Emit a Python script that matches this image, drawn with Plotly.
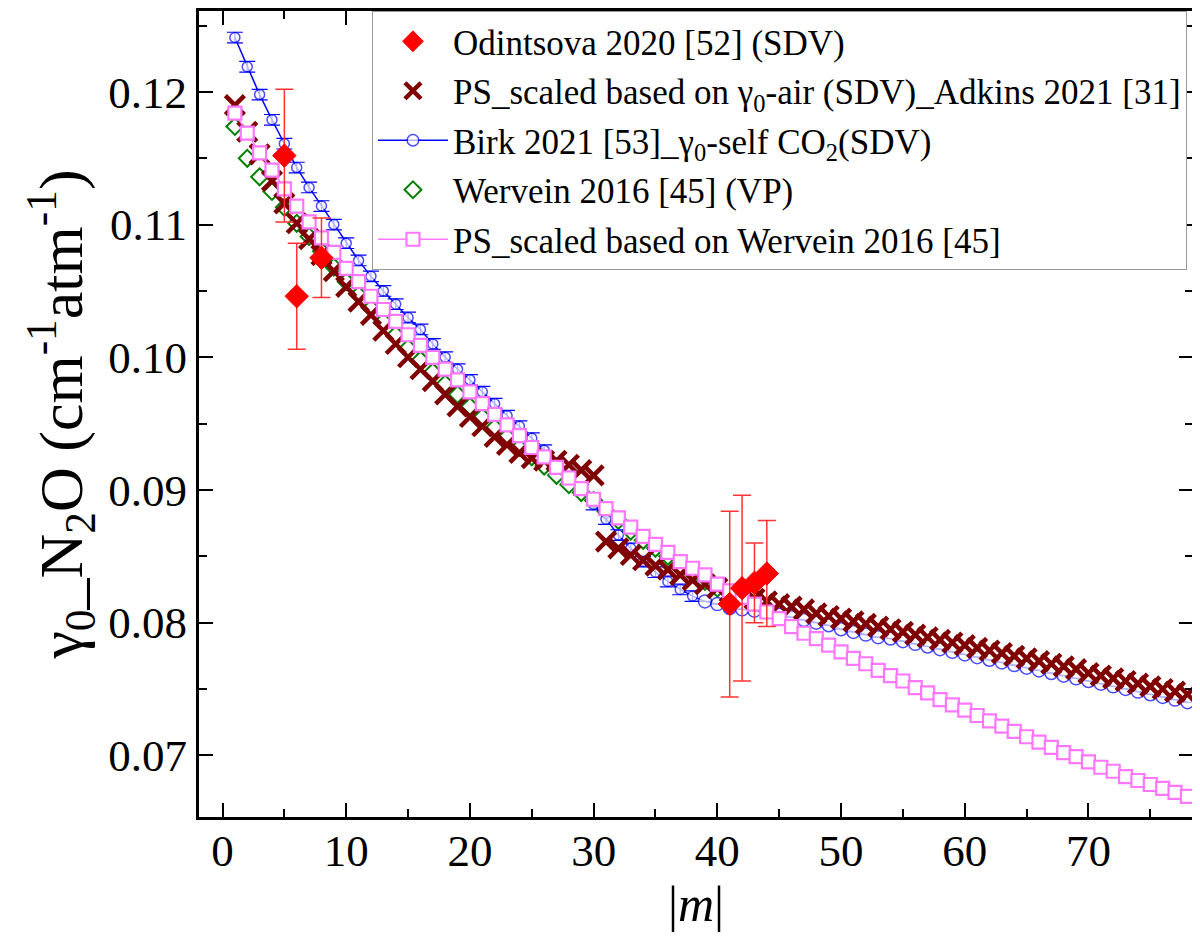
import plotly.graph_objects as go

# ---------------- data ----------------
m_odin = [5, 6, 8, 41, 42, 43, 44]
y_odin = [0.1152, 0.1046, 0.1075, 0.0814, 0.0826, 0.0830, 0.0837]
e_odin = [0.0050, 0.0040, 0.0030, 0.0070, 0.0070, 0.0030, 0.0040]

m_adk = list(range(1, 79))
y_adk = [0.1190, 0.1170, 0.1153, 0.1133, 0.1116, 0.1101, 0.1089, 0.1077, 0.1065, 0.1053,
         0.1042, 0.1032, 0.1020, 0.1010, 0.1000, 0.0991, 0.0982, 0.0972, 0.0963, 0.0955,
         0.0948, 0.0940, 0.0934, 0.0928, 0.0924, 0.0922, 0.0922, 0.0919, 0.0915, 0.0911,
         0.0861, 0.0856, 0.0851, 0.0847, 0.0843, 0.0840, 0.0836, 0.0832, 0.0829, 0.0826,
         0.0823, 0.0820, 0.0818, 0.0816, 0.0814, 0.0812, 0.0810, 0.0807, 0.0805, 0.0803,
         0.0801, 0.0799, 0.0797, 0.0795, 0.0793, 0.0791, 0.0789, 0.0787, 0.0785, 0.0783,
         0.0781, 0.0779, 0.0777, 0.0775, 0.0773, 0.0771, 0.0769, 0.0767, 0.0765, 0.0762,
         0.0760, 0.0758, 0.0756, 0.0754, 0.0752, 0.0750, 0.0748, 0.0746]

m_birk = list(range(1, 79))
y_birk = [0.1241, 0.1219, 0.1198, 0.1179, 0.1161, 0.1143, 0.1128, 0.1114, 0.1100, 0.1086,
          0.1073, 0.1061, 0.1050, 0.1040, 0.1030, 0.1021, 0.1010, 0.1000, 0.0991, 0.0983,
          0.0974, 0.0965, 0.0956, 0.0948, 0.0939, 0.0930, 0.0920, 0.0910, 0.0900, 0.0889,
          0.0878, 0.0866, 0.0856, 0.0846, 0.0838, 0.0831, 0.0825, 0.0820, 0.0816, 0.0814,
          0.0811, 0.0810, 0.0809, 0.0808, 0.0806, 0.0804, 0.0802, 0.0800, 0.0798, 0.0795,
          0.0793, 0.0791, 0.0789, 0.0788, 0.0786, 0.0784, 0.0782, 0.0780, 0.0778, 0.0776,
          0.0774, 0.0772, 0.0770, 0.0768, 0.0766, 0.0764, 0.0762, 0.0760, 0.0758, 0.0756,
          0.0754, 0.0752, 0.0750, 0.0748, 0.0746, 0.0744, 0.0742, 0.0740]
e_birk = [0.0004] * 38 + [0.0] * 40

m_werv = list(range(1, 41))
y_werv = [0.1174, 0.1150, 0.1136, 0.1125, 0.1113, 0.1101, 0.1091, 0.1080, 0.1068, 0.1057,
          0.1047, 0.1037, 0.1027, 0.1017, 0.1007, 0.0998, 0.0989, 0.0980, 0.0972, 0.0963,
          0.0955, 0.0947, 0.0940, 0.0932, 0.0925, 0.0918, 0.0911, 0.0904, 0.0898, 0.0892,
          0.0884, 0.0877, 0.0869, 0.0862, 0.0856, 0.0850, 0.0843, 0.0837, 0.0831, 0.0826]

m_psw = list(range(1, 79))
y_psw = [0.1184, 0.1169, 0.1154, 0.1141, 0.1127, 0.1114, 0.1102, 0.1090, 0.1079, 0.1067,
         0.1057, 0.1046, 0.1036, 0.1027, 0.1017, 0.1009, 0.1000, 0.0991, 0.0983, 0.0974,
         0.0965, 0.0957, 0.0949, 0.0941, 0.0932, 0.0925, 0.0917, 0.0909, 0.0901, 0.0893,
         0.0886, 0.0879, 0.0872, 0.0865, 0.0859, 0.0853, 0.0846, 0.0841, 0.0836, 0.0829,
         0.0824, 0.0819, 0.0814, 0.0808, 0.0803, 0.0797, 0.0792, 0.0788, 0.0783, 0.0778,
         0.0773, 0.0769, 0.0764, 0.0760, 0.0756, 0.0751, 0.0747, 0.0742, 0.0738, 0.0734,
         0.0730, 0.0726, 0.0722, 0.0718, 0.0714, 0.0710, 0.0706, 0.0702, 0.0699, 0.0695,
         0.0691, 0.0688, 0.0684, 0.0681, 0.0678, 0.0675, 0.0672, 0.0669]

x_ticks = [0, 10, 20, 30, 40, 50, 60, 70]
y_ticks = [0.07, 0.08, 0.09, 0.10, 0.11, 0.12]
y_ticklabels = ["0.07", "0.08", "0.09", "0.10", "0.11", "0.12"]

FONT = "Liberation Serif"

birk_sizes = [10 if e > 0 else 13 for e in e_birk]

fig = go.Figure()

fig.add_trace(go.Scatter(
    x=m_werv, y=y_werv, mode="markers", name="Wervein 2016 [45] (VP)",
    legendrank=4, legendgroup="g4",
    marker=dict(symbol="diamond-open", size=13, color="#008000", line=dict(width=2, color="#008000"))))

fig.add_trace(go.Scatter(
    x=m_birk, y=y_birk, mode="lines+markers",
    name="Birk 2021 [53]_γ<sub>0</sub>-self CO<sub>2</sub>(SDV)",
    legendrank=3, legendgroup="g3",
    line=dict(color="#0000FF", width=1.5),
    marker=dict(symbol="circle", size=birk_sizes, color="white", line=dict(width=1.5, color="#0000FF")),
    error_y=dict(type="data", array=e_birk, visible=True, color="#0000FF", thickness=1.2, width=8)))

fig.add_trace(go.Scatter(
    x=m_adk, y=y_adk, mode="markers",
    name="PS_scaled based on γ<sub>0</sub>-air (SDV)_Adkins 2021 [31]",
    legendrank=2, legendgroup="g2",
    marker=dict(symbol="x-thin", size=19, color="#800000", line=dict(width=4.5, color="#800000"))))

fig.add_trace(go.Scatter(
    x=m_psw, y=y_psw, mode="lines+markers",
    name="PS_scaled based on Wervein 2016 [45]",
    legendrank=5, legendgroup="g5",
    line=dict(color="#FF77FF", width=1.5),
    marker=dict(symbol="square", size=13, color="white", line=dict(width=2.2, color="#FF77FF"))))

fig.add_trace(go.Scatter(
    x=m_odin, y=y_odin, mode="markers", name="Odintsova 2020 [52] (SDV)",
    legendrank=1, legendgroup="g1",
    marker=dict(symbol="diamond", size=18, color="#FF0000", line=dict(width=1, color="#FF0000")),
    error_y=dict(type="data", array=e_odin, visible=True, color="#FF3333", thickness=1.5, width=9)))

axis_common = dict(
    showline=True, linecolor="black", linewidth=3, mirror="allticks",
    ticks="inside", ticklen=14, tickwidth=2, tickcolor="black",
    showgrid=False, zeroline=False,
    tickfont=dict(family=FONT, size=45, color="black"),
)

fig.update_xaxes(
    range=[-1.9, 78.45], tickmode="array", tickvals=x_ticks,
    minor=dict(ticks="inside", ticklen=8, tickwidth=2, tickcolor="black", dtick=5, tick0=0, showgrid=False),
    ticklabelstandoff=-8,
    title=dict(text="|<i>m</i>|", font=dict(family=FONT, size=50, color="black"), standoff=0),
    **axis_common)

fig.update_yaxes(
    range=[0.06535, 0.1261], tickmode="array", tickvals=y_ticks, ticktext=y_ticklabels,
    minor=dict(ticks="inside", ticklen=8, tickwidth=2, tickcolor="black", dtick=0.005, tick0=0.07, showgrid=False),
    title=dict(text="γ<sub>0</sub>_N<sub>2</sub>O (cm<sup>-1</sup>atm<sup>-1</sup>)",
               font=dict(family=FONT, size=62, color="black"), standoff=6),
    **axis_common)

fig.update_layout(
    width=1192, height=939,
    margin=dict(l=191, r=7, t=0, b=130),
    paper_bgcolor="white", plot_bgcolor="white",
    font=dict(family=FONT, color="black"),
    legend=dict(
        x=0.174, y=1.0, xanchor="left", yanchor="top",
        bgcolor="white", bordercolor="#999999", borderwidth=1,
        font=dict(family=FONT, size=35, color="black"),
        tracegroupgap=1, itemwidth=70,
    ),
)

fig.write_html("out.html")
